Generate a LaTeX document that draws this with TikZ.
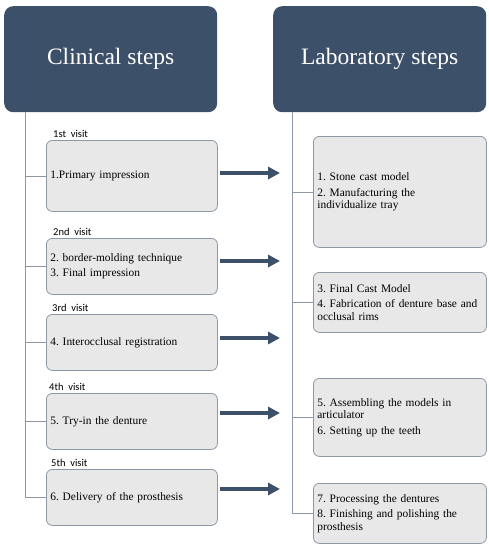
\documentclass[tikz,border=0pt]{standalone}
\usepackage{fontspec}
\setmainfont{Liberation Serif}
\newfontfamily\visitfont{Carlito}
\usetikzlibrary{arrows.meta}
\definecolor{navy}{HTML}{3C5069}
\definecolor{boxfill}{HTML}{E8E8E8}
\definecolor{boxline}{HTML}{8C98A5}
\definecolor{treeline}{HTML}{8C98A5}
\frenchspacing
\begin{document}
\begin{tikzpicture}[x=1pt,y=-1pt,
  header/.style={fill=navy, rounded corners=9pt, minimum width=213pt, minimum height=106pt,
    anchor=north west, text=white, font=\fontsize{23.5}{26}\selectfont, inner sep=0pt},
  stepbox/.style={draw=boxline, line width=0.8pt, fill=boxfill, rounded corners=6pt,
    anchor=north west, inner xsep=4pt, inner ysep=0pt, align=left,
    font=\fontsize{11.4}{12.5}\selectfont, text width=163pt, minimum width=171pt},
  labbox/.style={stepbox, inner xsep=4pt, text width=165pt, minimum width=173pt},
  visit/.style={anchor=base west, inner sep=0pt, font=\visitfont\fontsize{10.5}{12}\selectfont},
  tree/.style={draw=treeline, line width=0.8pt},
  arr/.style={draw=navy, line width=4pt, -{Triangle[length=12pt, width=12pt]}}
]
\useasboundingbox (0,0) rectangle (489,550);

% headers
\node[header] (lh) at (4,6) {Clinical steps};
\node[header] (rh) at (273,6) {Laboratory steps};

% clinical boxes
\node[stepbox, minimum height=71pt] (b1) at (46,140) {1.Primary impression};
\node[stepbox, minimum height=56pt] (b2) at (46,238) {2. border-molding technique\\[3pt]3. Final impression};
\node[stepbox, minimum height=56pt] (b3) at (46,314) {4. Interocclusal registration};
\node[stepbox, minimum height=56pt] (b4) at (46,393) {5. Try-in the denture};
\node[stepbox, minimum height=56pt] (b5) at (46,469) {6. Delivery of the prosthesis};

% visit labels
\node[visit] (v1) at ([shift={(7,-2.5)}]b1.north west) {1st\ \ visit};
\node[visit] (v2) at ([shift={(7,-2.5)}]b2.north west) {2nd\ \ visit};
\node[visit] (v3) at ([shift={(6,-2.5)}]b3.north west) {3rd\ \ visit};
\node[visit] (v4) at ([shift={(3,-2.5)}]b4.north west) {4th\ \ visit};
\node[visit] (v5) at ([shift={(5,-2.5)}]b5.north west) {5th\ \ visit};

% laboratory boxes
\node[labbox, minimum height=111pt] (r1) at (313,136) {1. Stone cast model\\[3pt]2. Manufacturing the\\individualize tray};
\node[labbox, minimum height=60pt] (r2) at (313,272) {3. Final Cast Model\\[3pt]4. Fabrication of denture base and\\occlusal rims\\[6pt]};
\node[labbox, minimum height=78pt] (r3) at (313,378) {5. Assembling the models in\\articulator\\[3pt]6. Setting up the teeth\\[10pt]};
\node[labbox, minimum height=60pt] (r4) at (313,483) {7. Processing the dentures\\[3pt]8. Finishing and polishing the\\prosthesis};

% left tree
\coordinate (lt) at (25,112);
\draw[tree] (lt) |- (b5.west);
\foreach \b in {b1,b2,b3,b4}{\draw[tree] (\b.west) -- (\b.west -| lt);}

% right tree
\coordinate (rt) at (292,112);
\draw[tree] (rt) |- (r4.west);
\foreach \b in {r1,r2,r3}{\draw[tree] (\b.west) -- (\b.west -| rt);}

% arrows
\coordinate (a1) at (280,173);
\coordinate (a2) at (280,261);
\coordinate (a3) at (280,338);
\coordinate (a4) at (280,413);
\coordinate (a5) at (280,489);
\draw[arr] (b1.east |- a1) ++(2,0) -- (a1);
\draw[arr] (b2.east |- a2) ++(2,0) -- (a2);
\draw[arr] (b3.east |- a3) ++(2,0) -- (a3);
\draw[arr] (b4.east |- a4) ++(2,0) -- (a4);
\draw[arr] (b5.east |- a5) ++(2,0) -- (a5);
\end{tikzpicture}
\end{document}
